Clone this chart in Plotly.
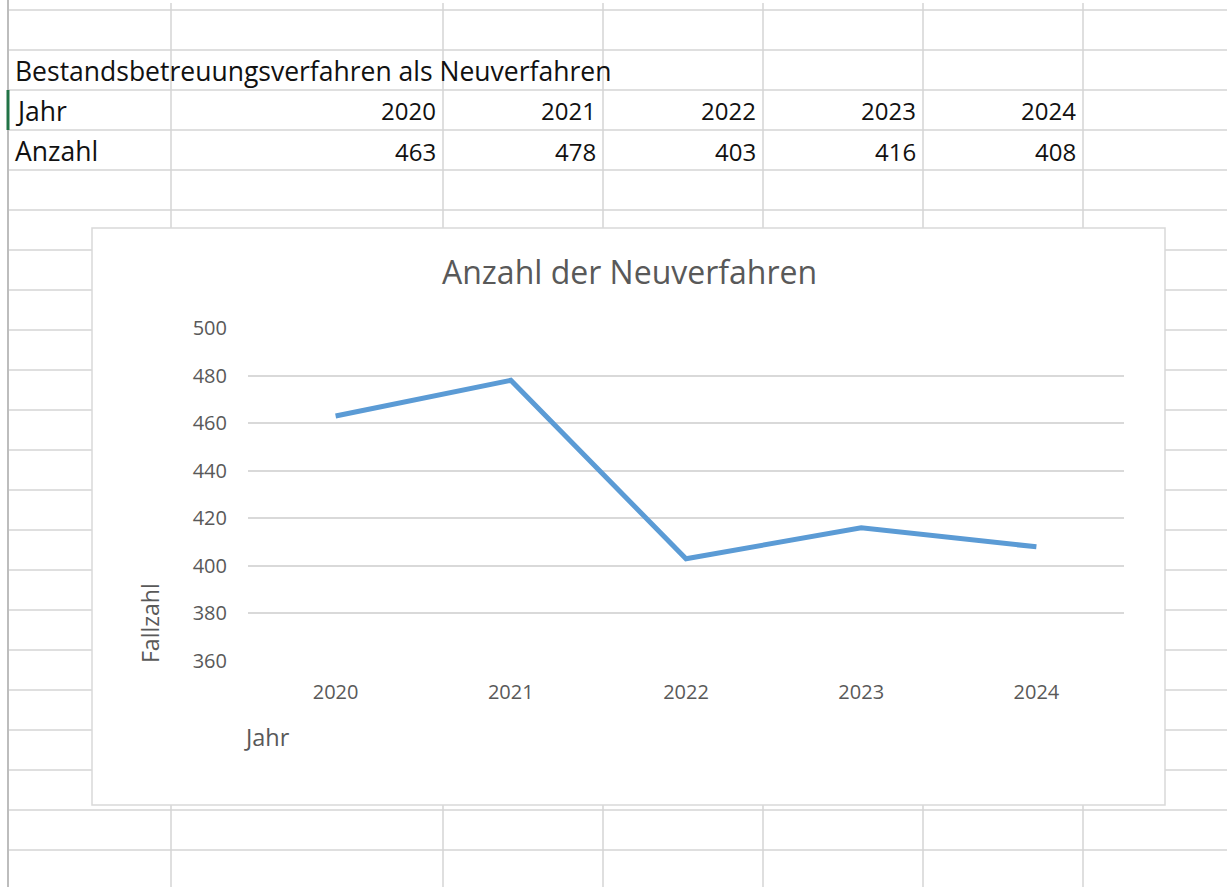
import plotly.graph_objects as go

# ---- data ----
years = ["2020", "2021", "2022", "2023", "2024"]
counts = [463, 478, 403, 416, 408]
y_ticks = [360, 380, 400, 420, 440, 460, 480, 500]
sheet_title = "Bestandsbetreuungsverfahren als Neuverfahren"
row_labels = ["Jahr", "Anzahl"]
chart_title = "Anzahl der Neuverfahren"
x_title = "Jahr"
y_title = "Fallzahl"

W, H = 1227, 887


def px(x):
    return x / W


def py(y):
    return 1 - y / H


GRID = "#d4d4d4"
TXT = "#595959"
FONT = "Open Sans"
WORD_SIZE = 26.5
NUM_SIZE = 24

fig = go.Figure()
fig.add_trace(go.Scatter(
    x=years, y=counts, mode="lines",
    line=dict(color="#5b9bd5", width=5),
    hoverinfo="skip", showlegend=False,
))

shapes = []
# spreadsheet horizontal grid lines
for k in range(23):
    yy = 10 + 40 * k
    shapes.append(dict(type="line", xref="paper", yref="paper",
                       x0=px(8), x1=1, y0=py(yy), y1=py(yy),
                       line=dict(color=GRID, width=1.5), layer="below"))
# spreadsheet vertical grid lines
for xx in [171, 443, 603, 763, 923, 1083]:
    shapes.append(dict(type="line", xref="paper", yref="paper",
                       x0=px(xx), x1=px(xx), y0=py(3), y1=py(H),
                       line=dict(color=GRID, width=1.5), layer="below"))
# left border of sheet
shapes.append(dict(type="line", xref="paper", yref="paper",
                   x0=px(8), x1=px(8), y0=py(0), y1=py(H),
                   line=dict(color="#bdbdbd", width=2), layer="below"))
# selected-row marker
shapes.append(dict(type="line", xref="paper", yref="paper",
                   x0=px(8), x1=px(8), y0=py(90), y1=py(130),
                   line=dict(color="#217346", width=3), layer="below"))
# chart box
shapes.append(dict(type="rect", xref="paper", yref="paper",
                   x0=px(92), x1=px(1165), y0=py(228), y1=py(805),
                   fillcolor="white", line=dict(color="#d9d9d9", width=1.5),
                   layer="below"))


def sheet_text(text, x, y, anchor, size):
    return dict(text=text, x=px(x), y=py(y), xref="paper", yref="paper",
                xanchor=anchor, yanchor="middle", showarrow=False,
                font=dict(family=FONT, size=size, color="#111111"))


annotations = [
    sheet_text(sheet_title, 13, 71, "left", WORD_SIZE),
    sheet_text(row_labels[0], 13, 111, "left", WORD_SIZE),
    sheet_text(row_labels[1], 13, 151, "left", WORD_SIZE),
]
col_right = [438, 598, 758, 918, 1078]
for xr, yr, c in zip(col_right, years, counts):
    annotations.append(sheet_text(yr, xr, 111, "right", NUM_SIZE))
    annotations.append(sheet_text(str(c), xr, 151, "right", NUM_SIZE))

# chart title and axis titles
annotations.append(dict(text=chart_title, x=px(629), y=py(271), xref="paper", yref="paper",
                        xanchor="center", yanchor="middle", showarrow=False,
                        font=dict(family=FONT, size=32, color=TXT)))
annotations.append(dict(text=x_title, x=px(242), y=py(737), xref="paper", yref="paper",
                        xanchor="left", yanchor="middle", showarrow=False,
                        font=dict(family=FONT, size=23.5, color=TXT)))
annotations.append(dict(text=y_title, x=px(150), y=py(623), xref="paper", yref="paper",
                        xanchor="center", yanchor="middle", showarrow=False, textangle=-90,
                        font=dict(family=FONT, size=23, color=TXT)))

fig.update_layout(
    width=W, height=H,
    margin=dict(l=0, r=0, t=0, b=0, autoexpand=False),
    paper_bgcolor="white", plot_bgcolor="white",
    shapes=shapes, annotations=annotations,
    xaxis=dict(domain=[px(248), px(1124)], range=[-0.5, 4.5], type="category",
               showgrid=False, zeroline=False, showline=False, automargin=False,
               ticks="", ticklabelstandoff=17,
               tickfont=dict(family=FONT, size=20, color=TXT), fixedrange=True),
    yaxis=dict(domain=[py(661), py(328)], range=[360, 500], tickvals=y_ticks,
               showgrid=True, gridcolor="#d9d9d9", gridwidth=1.5, zeroline=False,
               showline=False, ticks="", ticklabelstandoff=20, automargin=False,
               tickfont=dict(family=FONT, size=20, color=TXT), fixedrange=True),
)

fig.write_html("out.html", config={"displayModeBar": False},
               post_script="document.body.style.margin='0';document.body.style.overflow='hidden';")
